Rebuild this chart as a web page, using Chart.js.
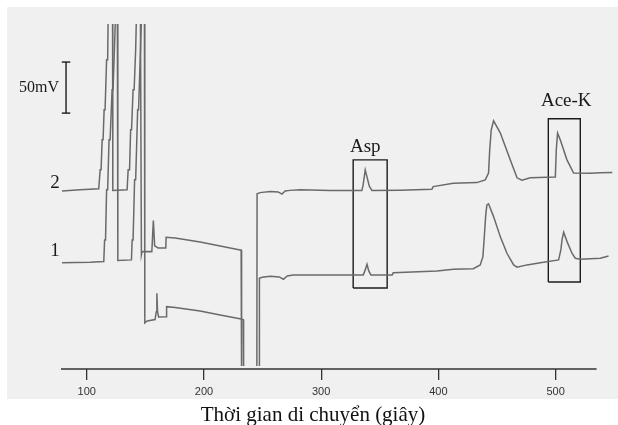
<!DOCTYPE html>
<html>
<head>
<meta charset="utf-8">
<title>Asp / Ace-K</title>
<script src="https://cdn.jsdelivr.net/npm/chart.js"></script>
<style>
  body { margin: 0; background: #fff; }
</style>
</head>
<body>
<canvas id="epChart" width="618" height="425"></canvas>
<script>
// trace 2 (upper) : time (s) / signal (mV, offset)
let trace2Time = [78.9, 94.3, 110.2, 111.4, 112.2, 113.1, 113.9, 114.8, 115.6, 116.9, 117.8, 118.2,
  122.0, 122.2, 134.4, 135.3, 136.5, 137.4, 138.2, 139.5, 140.4, 141.7, 142.3, 145.8,
  146.6, 147.2, 155.5, 156.8, 157.9, 160.9, 167.4, 167.7, 175.4, 196.7, 213.8, 230.9, 231.7, 232.1,
  245.1, 245.3, 247.9, 256.5, 263.3, 266.5, 269.3, 273.5, 282.1, 307.7,
  334.7, 335.8, 337.6, 339.3, 341.0, 343.3, 367.4, 394.5, 395.6, 412.7, 432.9,
  440.0, 442.8, 443.8, 445.1, 447.1, 452.8, 461.3, 467.1, 471.3, 478.4,
  499.8, 500.6, 501.7, 504.0, 509.7, 515.4, 529.6, 538.2, 548.4];
let trace2Signal = [174.5, 175.5, 176.5, 195.1, 195.1, 224.5, 224.5, 253.9, 253.9, 302.9, 302.9, 342,
  342, 174.8, 175.5, 195.1, 195.1, 234.3, 234.3, 273.5, 273.5, 312.7, 342, 342,
  111.8, 115.2, 115.0, 145.4, 120.6, 118.6, 118.6, 129.1, 128.4, 124.5, 120.6, 116.7, 116.7, -15,
  -15, 171.6, 172.8, 173.8, 173.5, 171.3, 174.5, 175.0, 175.5, 175.0,
  174.8, 180.4, 195.1, 187.3, 179.4, 174.8, 175.2, 176.2, 178.7, 182.0, 182.6,
  185.3, 191.9, 214.7, 234.3, 243.1, 231.4, 204.9, 187.3, 185.0, 187.3,
  188.2, 214.7, 231.1, 224.5, 204.9, 191.9, 191.7, 192.2, 192.6];

// trace 1 (lower)
let trace1Time = [78.9, 102.8, 114.5, 115.2, 116.0, 116.9, 117.8, 119.0, 119.9, 121.6, 122.4, 124.4,
  126.1, 126.5, 138.1, 138.7, 139.5, 140.8, 141.7, 143.4, 144.2, 146.6, 149.2,
  149.5, 151.5, 158.3, 159.2, 159.8, 160.4, 161.3, 167.7, 168.1, 175.4, 196.7, 213.8, 231.7, 233.4, 233.8,
  247.1, 247.3, 249.6, 256.5, 264.2, 267.8, 271.0, 276.1, 307.7,
  335.9, 337.6, 339.1, 340.6, 342.4, 360.6, 361.5, 398.8, 412.7, 429.8,
  435.7, 438.0, 439.4, 440.4, 441.4, 442.8, 447.1, 452.8, 458.5, 464.2, 467.1, 475.6, 487.0,
  502.6, 504.5, 505.5, 506.9, 509.8, 514.0, 516.8, 521.1, 538.2, 545.2];
let trace1Signal = [104.2, 104.6, 105.2, 126.5, 126.5, 175.5, 175.5, 224.5, 224.5, 273.5, 273.5, 342,
  342, 106.4, 106.9, 126.5, 126.5, 185.3, 185.3, 253.9, 253.9, 342, 342,
  45.1, 47.1, 48.5, 55.9, 74.2, 55.9, 51.0, 51.3, 61.1, 60.3, 56.9, 52.9, 49.0, 48.5, -15,
  -15, 88.9, 89.9, 90.9, 90.2, 87.9, 91.2, 92.2, 92.2,
  92.2, 97.1, 102.6, 96.1, 92.2, 92.2, 94.4, 96.1, 97.7, 98.3,
  102.0, 110.1, 133.3, 151.0, 160.8, 161.8, 149.3, 129.7, 113.4, 102.0, 99.7, 102.0, 104.2,
  106.9, 116.7, 126.5, 134.0, 124.8, 113.4, 108.5, 107.5, 108.5, 110.8];

let tickValues = [100, 200, 300, 400, 500];

// boxes round the peaks: [left, right] s, [bottom, top] mV
let aspBoxTime = [327.3, 356.3];
let aspBoxSignal = [79.4, 204.9];
let acekBoxTime = [493.8, 521.1];
let acekBoxSignal = [85.3, 245.1];

// 50 mV scale bar
let barTime = 82.3;
let barSignal = [250.7, 300.7];

// texts placed in data units
let labelTexts = ['Asp', 'Ace-K', '2', '1'];
let labelTime = [337.6, 509.1, 72.9, 72.9];
let labelSignal = [212.7, 257.8, 177.5, 110.8];

let axisTitle = 'Thời gian di chuyển (giây)';

function toPoints(xs, ys) {
  let pts = [];
  for (let i = 0; i < xs.length; i++) {
    pts.push({x: xs[i], y: ys[i]});
  }
  return pts;
}

function boxPoints(xs, ys) {
  return [{x: xs[0], y: ys[0]}, {x: xs[0], y: ys[1]}, {x: xs[1], y: ys[1]},
    {x: xs[1], y: ys[0]}, {x: xs[0], y: ys[0]}];
}

// the off-scale dips stop a little above the axis line
let traceStyle = {borderColor: '#6a6a6a', borderWidth: 1.5, pointRadius: 0, tension: 0, fill: false,
  clip: {left: 2, top: 0, right: 2, bottom: -3}};
let boxStyle = {borderColor: '#1c1c1c', borderWidth: 1.4, pointRadius: 0, tension: 0, fill: false};

// grey panel + axis line + texts
let decorPlugin = {
  id: 'decor',
  beforeDraw(chart) {
    let c = chart.ctx;
    c.save();
    c.fillStyle = '#ffffff';
    c.fillRect(0, 0, chart.width, chart.height);
    c.fillStyle = '#f0f0f0';
    c.fillRect(7, 7, chart.width - 7, 392);
    c.restore();
  },
  afterDatasetsDraw(chart) {
    let c = chart.ctx;
    let xs = chart.scales.x;
    let ys = chart.scales.y;
    c.save();
    // axis line stops at 535 s
    c.strokeStyle = '#333';
    c.lineWidth = 1.3;
    c.beginPath();
    c.moveTo(xs.getPixelForValue(78), chart.chartArea.bottom);
    c.lineTo(xs.getPixelForValue(535), chart.chartArea.bottom);
    c.stroke();

    c.fillStyle = '#1a1a1a';
    c.textAlign = 'center';
    c.textBaseline = 'alphabetic';
    c.font = '19px "Liberation Serif"';
    for (let i = 0; i < labelTexts.length; i++) {
      c.fillText(labelTexts[i], xs.getPixelForValue(labelTime[i]), ys.getPixelForValue(labelSignal[i]));
    }
    c.font = '16px "Liberation Serif"';
    c.textAlign = 'right';
    c.textBaseline = 'middle';
    c.fillText('50mV', xs.getPixelForValue(barTime) - 7, ys.getPixelForValue((barSignal[0] + barSignal[1]) / 2));

    // x title sits on the white strip, a bit left of the plot centre
    c.fillStyle = '#111';
    c.textAlign = 'center';
    c.textBaseline = 'alphabetic';
    c.font = '21px "Liberation Serif"';
    c.fillText(axisTitle, 313, 421);
    c.restore();
  }
};

let ctx = document.getElementById('epChart').getContext('2d');
new Chart(ctx, {
  type: 'line',
  data: {
    datasets: [
      Object.assign({label: '2', data: toPoints(trace2Time, trace2Signal)}, traceStyle),
      Object.assign({label: '1', data: toPoints(trace1Time, trace1Signal)}, traceStyle),
      Object.assign({label: 'Asp box', data: boxPoints(aspBoxTime, aspBoxSignal)}, boxStyle),
      Object.assign({label: 'Ace-K box', data: boxPoints(acekBoxTime, acekBoxSignal)}, boxStyle),
      Object.assign({label: 'bar', data: [{x: barTime, y: barSignal[0]}, {x: barTime, y: barSignal[1]}]}, boxStyle),
      Object.assign({label: 'cap1', data: [{x: barTime - 3.6, y: barSignal[0]}, {x: barTime + 3.6, y: barSignal[0]}]}, boxStyle),
      Object.assign({label: 'cap2', data: [{x: barTime - 3.6, y: barSignal[1]}, {x: barTime + 3.6, y: barSignal[1]}]}, boxStyle)
    ]
  },
  options: {
    responsive: false,
    animation: false,
    layout: {padding: {left: 61, top: 24, right: 5, bottom: 0}},
    plugins: {legend: {display: false}, tooltip: {enabled: false}},
    scales: {
      x: {
        type: 'linear',
        min: 78,
        max: 549,
        afterBuildTicks: function(scale) {
          scale.ticks = tickValues.map(v => ({value: v}));
        },
        afterFit: function(scale) {
          scale.height = 56;
        },
        border: {display: false},
        grid: {drawOnChartArea: false, drawTicks: true, tickLength: 11, color: '#333', lineWidth: 1.3},
        ticks: {font: {family: '"Liberation Sans"', size: 11}, color: '#333', padding: 5, maxRotation: 0}
      },
      y: {
        type: 'linear',
        display: false,
        min: 0,
        max: 338
      }
    }
  },
  plugins: [decorPlugin]
});
</script>
</body>
</html>
